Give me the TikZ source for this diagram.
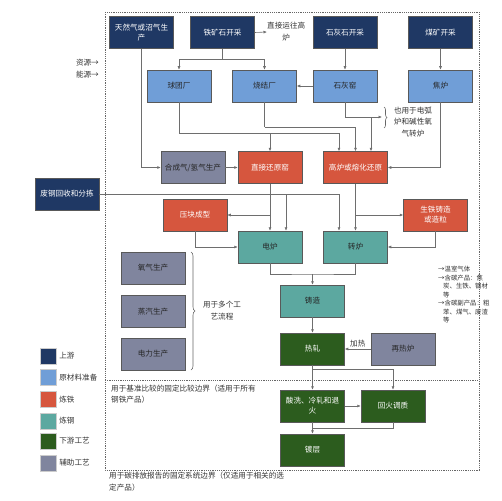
\documentclass[tikz,border=0pt]{standalone}
\usepackage{fontspec}
\newfontfamily\cjk{Noto Sans CJK SC}
\usetikzlibrary{arrows.meta,decorations.pathreplacing,calc}
\definecolor{cnavy}{RGB}{31,56,100}
\definecolor{clblue}{RGB}{112,158,215}
\definecolor{cred}{RGB}{214,86,62}
\definecolor{cteal}{RGB}{92,168,160}
\definecolor{cgreen}{RGB}{44,92,30}
\definecolor{cgray}{RGB}{128,133,158}
\definecolor{cline}{RGB}{110,110,110}
\begin{document}
\begin{tikzpicture}[x=1pt,y=-1pt,
  box/.style={draw=black!65, line width=0.5pt, minimum width=64pt, minimum height=32pt,
    inner sep=1pt, align=center, font=\cjk\fontsize{7.6}{10}\selectfont},
  up/.style={box, fill=cnavy, text=white},
  raw/.style={box, fill=clblue, text=black!85},
  iron/.style={box, fill=cred, text=white},
  steel/.style={box, fill=cteal, text=black!85},
  down/.style={box, fill=cgreen, text=white},
  aux/.style={box, fill=cgray, text=black!85},
  line/.style={draw=cline, line width=0.6pt},
  arr/.style={line, -{Latex[length=3.5pt,width=3pt]}},
  note/.style={font=\cjk\fontsize{7.6}{11}\selectfont, text=black!80, inner sep=0pt},
  small/.style={font=\cjk\fontsize{6.4}{8.5}\selectfont, text=black!80, inner sep=0pt},
  bnd/.style={draw=black!60, line width=0.5pt, dash pattern=on 1.2pt off 1pt},
  brc/.style={draw=black!60, line width=0.6pt, decorate, decoration={brace, amplitude=3pt}},
  lg/.style={draw=black!20, line width=0.3pt, minimum width=16pt, minimum height=16pt, inner sep=0pt}
]
\useasboundingbox (0,0) rectangle (502,500);

% boundaries
\draw[bnd] (105,12) rectangle (479,470);
\draw[bnd] (105,380) -- (479,380);

% nodes
\node[up] (ng) at (141.5,32.5) {天然气或沼气生\\产};
\node[up] (ore) at (222.5,32.5) {铁矿石开采};
\node[up] (lime) at (345,32.5) {石灰石开采};
\node[up] (coal) at (440.5,32.5) {煤矿开采};
\node[raw] (pellet) at (179,86) {球团厂};
\node[raw] (sinter) at (264.5,86) {烧结厂};
\node[raw] (kiln) at (345,86) {石灰窑};
\node[raw] (coke) at (440.5,86) {焦炉};
\node[aux] (syn) at (193,167.5) {合成气/氢气生产};
\node[iron] (dri) at (270,167.5) {直接还原窑};
\node[iron] (bf) at (355.5,167.5) {高炉或熔化还原};
\node[up] (scrap) at (67,194) {废钢回收和分拣};
\node[iron] (bri) at (195,215) {压块成型};
\node[iron] (pig) at (435.5,215) {生铁铸造\\或造粒};
\node[steel] (eaf) at (270,247) {电炉};
\node[steel] (bof) at (355.5,247) {转炉};
\node[steel] (cast) at (312.5,301) {铸造};
\node[down] (hr) at (312.5,349) {热轧};
\node[aux] (rh) at (403,349) {再热炉};
\node[down] (pick) at (312.5,406) {酸洗、冷轧和退\\火};
\node[down] (temp) at (393,406) {回火调质};
\node[down] (coat) at (312.5,450) {镀层};
\node[aux] (oxy) at (153,268) {氧气生产};
\node[aux] (steam) at (153,311.5) {蒸汽生产};
\node[aux] (power) at (153,354) {电力生产};

% text labels
\node[note, anchor=west, align=center, font=\cjk\fontsize{7.6}{12}\selectfont] (direct) at (267,32) {直接运往高\\炉};
\node[note, align=center, font=\cjk\fontsize{7.6}{11.5}\selectfont] (also) at (413,122) {也用于电弧\\炉和碱性氧\\气转炉};
\node[note, align=center, font=\cjk\fontsize{7.6}{12}\selectfont] (multi) at (222,311) {用于多个工\\艺流程};
\node[note, anchor=east] (res) at (99,63) {资源→};
\node[note, anchor=east] (ene) at (99,75) {能源→};
\node[small, anchor=north west, align=left] (rnote) at (438,266) {→温室气体\\→含碳产品：焦\\\hspace*{5pt}炭、生铁、钢材\\\hspace*{5pt}等\\→含碳副产品：粗\\\hspace*{5pt}苯、煤气、废渣\\\hspace*{5pt}等};
\node[note, anchor=north west, align=left] (bench) at (111,385) {用于基准比较的固定比较边界（适用于所有\\钢铁产品）};
\node[note, anchor=north west, align=left, font=\cjk\fontsize{7.6}{12}\selectfont] (carbon) at (109,472) {用于碳排放报告的固定系统边界（仅适用于相关的选\\定产品）};

% legend
\node[lg, fill=cnavy] (l1) at (48,356) {};
\node[lg, fill=clblue] (l2) at (48,377.5) {};
\node[lg, fill=cred] (l3) at (48,399.5) {};
\node[lg, fill=cteal] (l4) at (48,421) {};
\node[lg, fill=cgreen] (l5) at (48,441) {};
\node[lg, fill=cgray] (l6) at (48,463) {};
\node[note, anchor=west] at ([xshift=3pt]l1.east) {上游};
\node[note, anchor=west] at ([xshift=3pt]l2.east) {原材料准备};
\node[note, anchor=west] at ([xshift=3pt]l3.east) {炼铁};
\node[note, anchor=west] at ([xshift=3pt]l4.east) {炼钢};
\node[note, anchor=west] at ([xshift=3pt]l5.east) {下游工艺};
\node[note, anchor=west] at ([xshift=3pt]l6.east) {辅助工艺};

% braces
\draw[brc] (384,107) -- (384,128);
\coordinate (braceA) at (382,117);
\draw[brc, decoration={brace, amplitude=4pt}] (191,252) -- (191,370);

% connectors
\coordinate (oreJ) at (222.5,59);
\draw[line] (ore.south) -- (oreJ);
\draw[arr] (oreJ) -| (pellet.north);
\draw[arr] (oreJ) -| (sinter.north);
\draw[arr] (ore.east) -- (direct.west);
\draw[arr] (lime) -- (kiln);
\draw[arr] (coal) -- (coke);
\draw[arr] (kiln) -- (sinter);

\coordinate (kJ) at (345,117);
\coordinate (kJ2) at (371,117);
\draw[line] (kiln.south) -- (kJ);
\draw[arr] (kJ) -- (braceA);
\draw[arr] (kJ2) -- (kJ2 |- bf.north);

\coordinate (sJ) at (264.5,127);
\draw[line] (sinter.south) -- (sJ);
\draw[arr] (sJ) -| (bf.north);

\coordinate (pJ) at (179,133.5);
\coordinate (pJ2) at (270,133.5);
\draw[line] (pellet.south) -- (pJ);
\draw[arr] (pJ) -| ([xshift=-16.5pt]bf.north);
\draw[arr] (pJ2) -- (dri.north);

\draw[arr] (ng.south) |- (syn.west);
\draw[arr] (syn) -- (dri);
\draw[arr] (coke.south) |- (bf.east);

\coordinate (scJ) at (286,194);
\draw[arr] (scrap.east) -| ([xshift=-16.5pt]bof.north);
\draw[arr] (scJ) -- (scJ |- eaf.north);

\draw[arr] (dri) -- (eaf);
\draw[arr] (dri.south |- bri.east) -- (bri.east);
\draw[arr] (bri.south) |- (eaf.west);
\draw[arr] (bf) -- (bof);
\draw[arr] (bf.south |- pig.west) -- (pig.west);
\draw[arr] (pig.south) |- (bof.east);

\coordinate (mJ) at (312.5,274);
\draw[line] (eaf.south) |- (mJ) -| (bof.south);
\draw[arr] (mJ) -- (cast.north);
\draw[arr] (cast) -- (hr);
\draw[arr] (rh) -- node[note, above=2pt] {加热} (hr);

\coordinate (hJ) at (312.5,369);
\draw[arr] (hr) -- (pick);
\draw[arr] (hJ) -| (temp.north);
\draw[arr] (pick) -- (temp);
\draw[arr] (pick) -- (coat);
\coordinate (tJ) at (312.5,428);
\draw[line] (temp.south) |- (tJ);
\end{tikzpicture}
\end{document}
